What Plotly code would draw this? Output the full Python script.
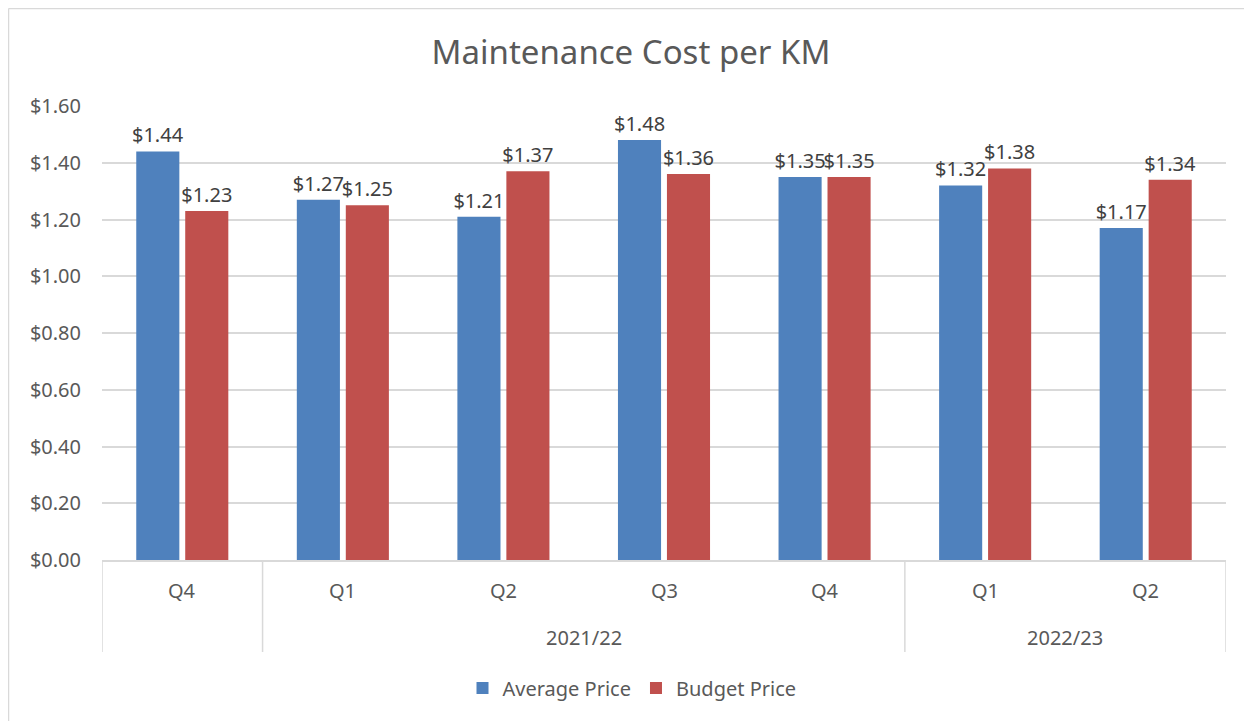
import plotly.graph_objects as go

years = ["", "2021/22", "2021/22", "2021/22", "2021/22", "2022/23", "2022/23"]
quarters = ["Q4", "Q1", "Q2", "Q3", "Q4", "Q1", "Q2"]
average_price = [1.44, 1.27, 1.21, 1.48, 1.35, 1.32, 1.17]
budget_price = [1.23, 1.25, 1.37, 1.36, 1.35, 1.38, 1.34]
y_ticks = [0, 0.2, 0.4, 0.6, 0.8, 1.0, 1.2, 1.4, 1.6]

FONT = "Noto Sans"
GREY = "#595959"
LINE = "#d9d9d9"
FS = 20

# page has an 8px body margin: figure coords = reference coords - 8
OFF = 8
W, H = 1244, 713
L, R, T, B = 102 - OFF, 26, 106 - OFF, 161
pw, ph = W - L - R, H - T - B

def px(x):
    return (x - OFF - L) / pw

def py(y):
    return (H - B - (y - OFF)) / ph

xpos = list(range(len(quarters)))

fig = go.Figure()
fig.add_trace(go.Bar(
    x=xpos, y=average_price, name="Average Price",
    marker=dict(color="#4F81BD", line=dict(width=0)),
    text=[f"${v:.2f}" for v in average_price], textposition="outside",
    constraintext="none",
    textfont=dict(size=FS, color="#404040", family=FONT), cliponaxis=False,
))
fig.add_trace(go.Bar(
    x=xpos, y=budget_price, name="Budget Price",
    marker=dict(color="#C0504D", line=dict(width=0)),
    text=[f"${v:.2f}" for v in budget_price], textposition="outside",
    constraintext="none",
    textfont=dict(size=FS, color="#404040", family=FONT), cliponaxis=False,
))

# chart-area border (top and left visible)
fig.add_shape(type="line", xref="paper", yref="paper",
              x0=px(8.5), x1=px(1260), y0=py(8.5), y1=py(8.5),
              line=dict(color=LINE, width=1.5))
fig.add_shape(type="line", xref="paper", yref="paper",
              x0=px(8.5), x1=px(8.5), y0=py(8.5), y1=py(730),
              line=dict(color=LINE, width=1.5))

# quarter labels
for i, q in enumerate(quarters):
    fig.add_annotation(x=i, y=py(590), xref="x", yref="paper", text=q,
                       showarrow=False, yanchor="middle",
                       font=dict(size=FS, color=GREY, family=FONT))

# year group labels and dividers
groups = []
for i, yname in enumerate(years):
    if groups and groups[-1][0] == yname:
        groups[-1][2] = i
    else:
        groups.append([yname, i, i])
for yname, a, b in groups:
    if yname:
        fig.add_annotation(x=(a + b) / 2, y=py(637), xref="x", yref="paper", text=yname,
                           showarrow=False, yanchor="middle",
                           font=dict(size=FS, color=GREY, family=FONT))
bounds = sorted({g[1] - 0.5 for g in groups} | {g[2] + 0.5 for g in groups})
for xb in bounds:
    fig.add_shape(type="line", xref="x", yref="paper", x0=xb, x1=xb,
                  y0=0, y1=py(652), line=dict(color=LINE, width=1.5))

fig.update_layout(
    width=W, height=H,
    margin=dict(l=L, r=R, t=T, b=B),
    paper_bgcolor="white", plot_bgcolor="white",
    title=dict(text="Maintenance Cost per KM", x=px(631), xanchor="center",
               xref="paper", y=1 - (52 - OFF) / H, yanchor="middle",
               font=dict(size=33, color=GREY, family=FONT)),
    barmode="group", bargap=0.39, bargroupgap=0.12,
    font=dict(family=FONT, color=GREY),
    showlegend=True,
    legend=dict(orientation="h", x=px(632), xanchor="center", y=py(688), yanchor="middle",
                font=dict(size=FS, color=GREY, family=FONT), itemwidth=30),
    yaxis=dict(range=[0, 1.6], tickvals=y_ticks, tickformat="$.2f",
               gridcolor=LINE, gridwidth=1.5, zeroline=False, ticklabelstandoff=20,
               tickfont=dict(size=FS, color=GREY, family=FONT), ticks="", ticklen=0),
    xaxis=dict(range=[-0.5, len(quarters) - 0.5], showline=True, linecolor=LINE,
               linewidth=1.5, showticklabels=False, ticks="", showgrid=False,
               zeroline=False),
)

fig.write_html("out.html")
